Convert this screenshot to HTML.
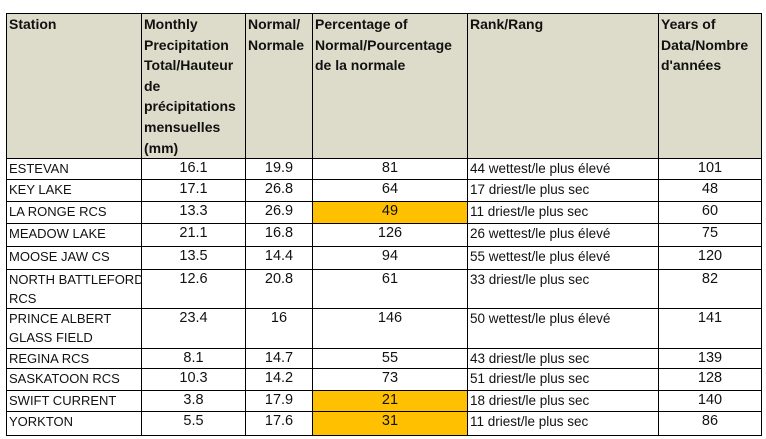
<!DOCTYPE html>
<html><head><meta charset="utf-8"><style>
body{margin:0;background:#fff;width:766px;height:439px;overflow:hidden;font-family:"Liberation Sans",sans-serif;}
table{position:absolute;left:6px;top:13px;border-collapse:collapse;table-layout:fixed;width:755px;}
td{border:1.3px solid #000;padding:0 2px;font-size:13.5px;color:#111;vertical-align:top;line-height:19px;overflow:hidden;white-space:nowrap;}
tr.h td{background:#dddcca;font-weight:bold;line-height:20.6px;white-space:normal;height:143px;font-size:14px;}
.c{text-align:center;font-size:14.5px}
.o{background:#ffc000}
.s{font-size:13px}
</style></head><body>
<table>
<colgroup><col style="width:135px"><col style="width:104px"><col style="width:67px"><col style="width:155px"><col style="width:191px"><col style="width:103px"></colgroup>
<tr class="h"><td>Station</td><td>Monthly Precipitation Total/Hauteur de précipitations mensuelles (mm)</td><td>Normal/ Normale</td><td style="white-space:nowrap">Percentage of<br>Normal/Pourcentage<br>de la normale</td><td>Rank/Rang</td><td>Years of Data/Nombre d'années</td></tr>
<tr style="height:21px"><td class="s">ESTEVAN</td><td class="c">16.1</td><td class="c">19.9</td><td class="c">81</td><td>44 wettest/le plus élevé</td><td class="c">101</td></tr>
<tr style="height:22px"><td class="s">KEY LAKE</td><td class="c">17.1</td><td class="c">26.8</td><td class="c">64</td><td>17 driest/le plus sec</td><td class="c">48</td></tr>
<tr style="height:22px"><td class="s">LA RONGE RCS</td><td class="c">13.3</td><td class="c">26.9</td><td class="c o">49</td><td>11 driest/le plus sec</td><td class="c">60</td></tr>
<tr style="height:23px"><td class="s">MEADOW LAKE</td><td class="c">21.1</td><td class="c">16.8</td><td class="c">126</td><td>26 wettest/le plus élevé</td><td class="c">75</td></tr>
<tr style="height:23px"><td class="s">MOOSE JAW CS</td><td class="c">13.5</td><td class="c">14.4</td><td class="c">94</td><td>55 wettest/le plus élevé</td><td class="c">120</td></tr>
<tr style="height:37px"><td class="s">NORTH BATTLEFORD<br>RCS</td><td class="c">12.6</td><td class="c">20.8</td><td class="c">61</td><td>33 driest/le plus sec</td><td class="c">82</td></tr>
<tr style="height:40px"><td class="s">PRINCE ALBERT<br>GLASS FIELD</td><td class="c">23.4</td><td class="c">16</td><td class="c">146</td><td>50 wettest/le plus élevé</td><td class="c">141</td></tr>
<tr style="height:18px"><td class="s">REGINA RCS</td><td class="c">8.1</td><td class="c">14.7</td><td class="c">55</td><td>43 driest/le plus sec</td><td class="c">139</td></tr>
<tr style="height:22px"><td class="s">SASKATOON RCS</td><td class="c">10.3</td><td class="c">14.2</td><td class="c">73</td><td>51 driest/le plus sec</td><td class="c">128</td></tr>
<tr style="height:21px"><td class="s">SWIFT CURRENT</td><td class="c">3.8</td><td class="c">17.9</td><td class="c o">21</td><td>18 driest/le plus sec</td><td class="c">140</td></tr>
<tr style="height:24px"><td class="s">YORKTON</td><td class="c">5.5</td><td class="c">17.6</td><td class="c o">31</td><td>11 driest/le plus sec</td><td class="c">86</td></tr>
</table>
</body></html>
